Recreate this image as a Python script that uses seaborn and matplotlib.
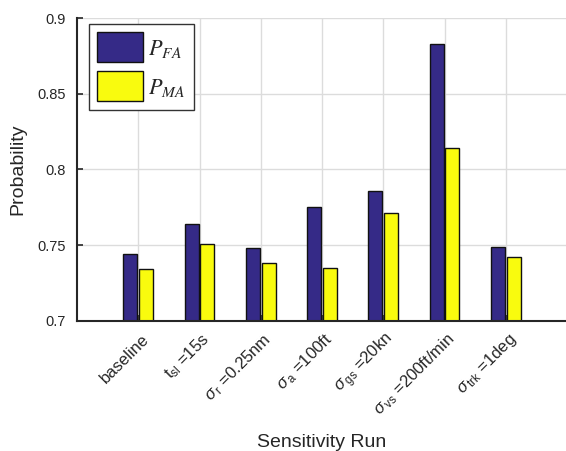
import matplotlib
matplotlib.use("Agg")
import matplotlib.pyplot as plt
import matplotlib.transforms as mtransforms
from matplotlib.font_manager import FontProperties
import pandas as pd
import seaborn as sns

# Sensitivity runs and the two error probabilities for each
runs = ["baseline", "t_sl=15s", "sigma_r=0.25nm", "sigma_a=100ft",
        "sigma_gs=20kn", "sigma_vs=200ft/min", "sigma_trk=1deg"]
run_labels = [
    "baseline",
    r"$\mathrm{t}_{\mathrm{sl}}$ =15s",
    r"$\sigma_{\,\mathrm{r}}$ =0.25nm",
    r"$\sigma_{\,\mathrm{a}}$ =100ft",
    r"$\sigma_{\,\mathrm{gs}}$ =20kn",
    r"$\sigma_{\,\mathrm{vs}}$ =200ft/min",
    r"$\sigma_{\,\mathrm{trk}}$ =1deg",
]
p_fa = [0.744, 0.764, 0.748, 0.775, 0.786, 0.883, 0.749]
p_ma = [0.734, 0.751, 0.738, 0.735, 0.771, 0.814, 0.742]
series_names = [r"$P_{FA}$", r"$P_{MA}$"]
series_colors = ["#352a87", "#f9fb0e"]

yticks = [0.7, 0.75, 0.8, 0.85, 0.9]
ytick_labels = ["0.7", "0.75", "0.8", "0.85", "0.9"]

df = pd.DataFrame({
    "run": runs * 2,
    "series": [series_names[0]] * len(runs) + [series_names[1]] * len(runs),
    "value": p_fa + p_ma,
})

sns.set_style("white")
plt.rcParams["font.family"] = ["Liberation Sans", "DejaVu Sans"]
plt.rcParams["mathtext.fontset"] = "custom"
plt.rcParams["mathtext.rm"] = "Liberation Sans"
plt.rcParams["mathtext.it"] = "Liberation Sans:italic"
plt.rcParams["mathtext.bf"] = "Liberation Sans:bold"

fig = plt.figure(figsize=(5.66, 4.51), dpi=100)
ax = fig.add_axes([77 / 566, 1 - 321 / 451, 490 / 566, 303 / 451])

sns.barplot(data=df, x="run", y="value", hue="series", order=runs,
            hue_order=series_names, palette=series_colors, width=0.52,
            gap=0.12, edgecolor="#111111", linewidth=1.0, saturation=1,
            errorbar=None, ax=ax, zorder=2)

ax.set_xlim(-1, 7)
ax.set_ylim(0.7, 0.9)
ax.set_yticks(yticks)
ax.set_yticklabels(ytick_labels, fontsize=10.5, color="#262626")
ax.set_xticks(range(len(runs)))
ax.set_xticklabels(run_labels, fontsize=12, color="#262626")

ax.grid(True, color="#dcdcdc", linewidth=1.0, zorder=0)
ax.set_axisbelow(True)
for side in ["top", "right"]:
    ax.spines[side].set_visible(False)
for side in ["left", "bottom"]:
    ax.spines[side].set_color("#262626")
    ax.spines[side].set_linewidth(1.5)
ax.tick_params(direction="in", length=4, width=1.2, color="#262626",
               left=True, bottom=True)
ax.tick_params(axis="y", pad=8)

# Slanted run names, nudged down and to the right of their ticks
offset = mtransforms.ScaledTranslation(8 / 100, -11 / 100, fig.dpi_scale_trans)
for lab in ax.get_xticklabels():
    lab.set_rotation(45)
    lab.set_ha("right")
    lab.set_va("center")
    lab.set_rotation_mode("anchor")
    lab.set_transform(lab.get_transform() + offset)

ax.set_ylabel("Probability", fontsize=14, color="#262626", labelpad=8)
ax.set_xlabel("Sensitivity Run", fontsize=14, color="#262626")
ax.xaxis.set_label_coords(0.5, -0.373)

leg_font = FontProperties(size=16, math_fontfamily="stix")
leg = ax.legend(loc="upper left", bbox_to_anchor=(12 / 490, 1 - 6 / 303),
                borderaxespad=0, prop=leg_font, fancybox=False, framealpha=1,
                edgecolor="#333333", handlelength=2.07, handleheight=1.7,
                handletextpad=0.22, labelspacing=0.4, borderpad=0.38, title=None)
leg.get_frame().set_linewidth(1.0)

fig.savefig("out.png", dpi=100)
